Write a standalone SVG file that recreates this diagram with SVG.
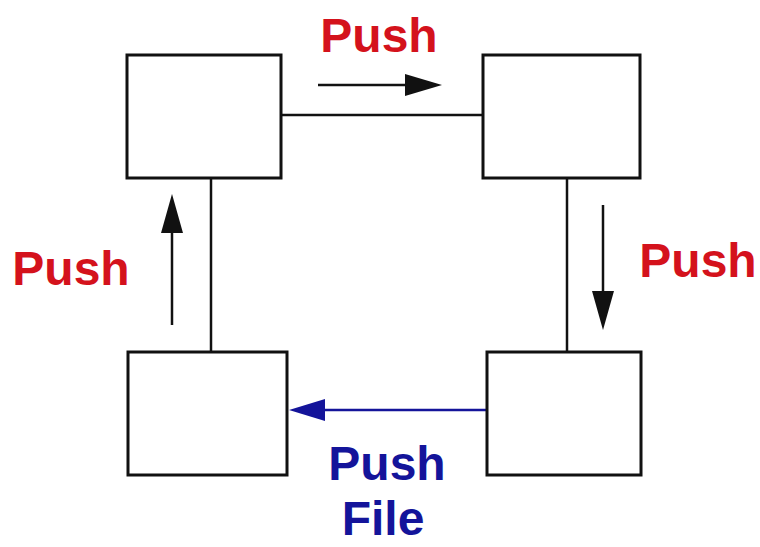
<svg xmlns="http://www.w3.org/2000/svg" width="760" height="547" viewBox="0 0 760 547">
<defs>
<style>
.box{fill:#fff;stroke:#111;stroke-width:3}
.conn{stroke:#111;stroke-width:2.5;fill:none}
.arr{stroke:#111;stroke-width:2.5;fill:none}
.lbl{font-family:"Liberation Sans",Arial,sans-serif;font-weight:bold;font-size:48px;text-anchor:middle}
.red{fill:#d4121c}
.blue{fill:#14149a}
</style>
<marker id="hk" markerWidth="10" markerHeight="8" refX="9" refY="4" orient="auto" markerUnits="userSpaceOnUse" viewBox="0 0 10 8">
<path d="M0,0 L10,4 L0,8 Z" fill="#111"/>
</marker>
</defs>
<rect width="760" height="547" fill="#fff"/>
<g id="connectors">
<line class="conn" x1="281" y1="115" x2="483" y2="115"/>
<line class="conn" x1="211" y1="178" x2="211" y2="352"/>
<line class="conn" x1="567" y1="178" x2="567" y2="352"/>
<line stroke="#14149a" stroke-width="2.5" x1="487" y1="410" x2="320" y2="410"/>
<path d="M289,410 L325,399 L325,421 Z" fill="#14149a"/>
</g>
<g id="arrows">
<line class="arr" x1="318" y1="85" x2="410" y2="85"/>
<path d="M442,85 L405,74 L405,96 Z" fill="#111"/>
<line class="arr" x1="172" y1="325" x2="172" y2="228"/>
<path d="M172,194 L161,233 L183,233 Z" fill="#111"/>
<line class="arr" x1="603" y1="205" x2="603" y2="296"/>
<path d="M603,330 L592,291 L614,291 Z" fill="#111"/>
</g>
<g id="node-top-left"><rect class="box" x="127" y="55" width="154" height="123"/></g>
<g id="node-top-right"><rect class="box" x="483" y="55" width="157" height="123"/></g>
<g id="node-bottom-left"><rect class="box" x="128" y="352" width="159" height="123"/></g>
<g id="node-bottom-right"><rect class="box" x="487" y="352" width="154" height="123"/></g>
<g id="labels">
<text class="lbl red" x="379" y="52">Push</text>
<text class="lbl red" x="71" y="285">Push</text>
<text class="lbl red" x="698" y="277">Push</text>
<text class="lbl blue" x="387" y="480">Push</text>
<text class="lbl blue" x="383" y="535">File</text>
</g>
</svg>
